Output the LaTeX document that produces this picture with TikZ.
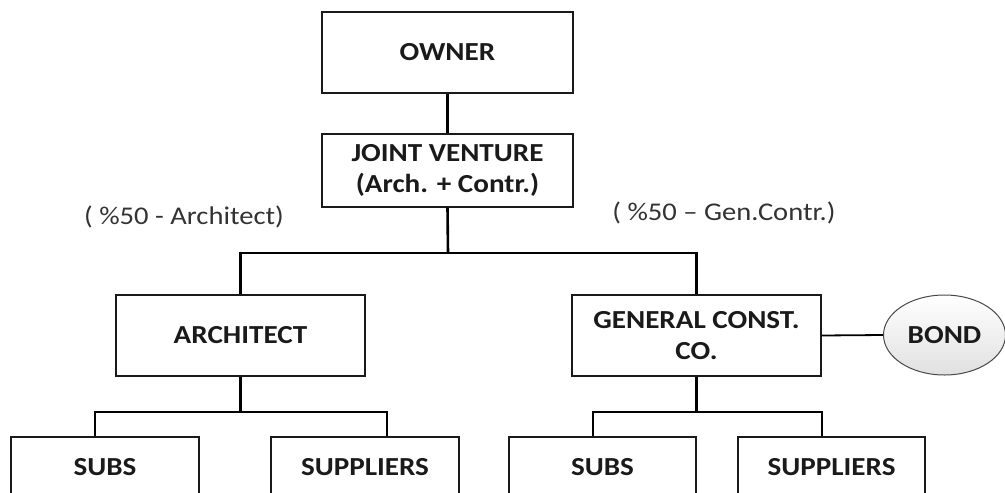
\documentclass[tikz,border=0pt]{standalone}
\usepackage{fontspec}
\setmainfont[FakeStretch=1.12]{Carlito}
\usetikzlibrary{shapes.geometric}
\definecolor{ink}{HTML}{1A1A1A}
\definecolor{note}{HTML}{333333}
\tikzset{
  box/.style={draw=ink, line width=1.3pt, fill=white, align=center,
    inner sep=0pt, font=\fontsize{26}{30}\selectfont\bfseries, text=ink},
  conn/.style={draw=black, line width=2.6pt},
  thin/.style={draw=black, line width=1.8pt},
  note/.style={font=\fontsize{25.5}{28}\selectfont, text=note, inner sep=0pt}
}
\begin{document}
\begin{tikzpicture}[x=1pt, y=-1pt]
\useasboundingbox (0,0) rectangle (1005,493);
\clip (0,0) rectangle (1005,493);

% upper chain
\node[box, minimum width=251pt, minimum height=81pt] (owner) at (447.5,52.5) {OWNER};
\node[box, minimum width=251pt, minimum height=73pt] (jv) at (447.5,170.5)
  {JOINT VENTURE\\[1pt](Arch. + Contr.)};

% partners
\node[box, minimum width=249pt, minimum height=81pt] (arch) at (240.5,335.5) {ARCHITECT};
\node[box, minimum width=249pt, minimum height=81pt] (gc) at (696.5,335.5)
  {GENERAL CONST.\\[1pt]CO.};

% bond
\node[ellipse, draw=ink!80, line width=1pt, top color=white, bottom color=black!12,
  minimum width=122pt, minimum height=80pt, inner sep=0pt,
  font=\fontsize{26}{30}\selectfont\bfseries, text=ink] (bond) at (944.5,335) {BOND};

% lower tier
\node[box, minimum width=188pt, minimum height=60pt] (subsA) at (105,467) {SUBS};
\node[box, minimum width=188pt, minimum height=60pt] (supA) at (365,467) {SUPPLIERS};
\node[box, minimum width=187pt, minimum height=60pt] (subsB) at (602.5,467) {SUBS};
\node[box, minimum width=187pt, minimum height=60pt] (supB) at (831.5,467) {SUPPLIERS};

% share notes
\node[note] (shareA) at (184,217) {( \%50 - Architect)};
\node[note] (shareB) at (724,213) {( \%50 – Gen.Contr.)};

% connectors
\coordinate (jvb) at (448,253);
\coordinate (archb) at (240.5,412);
\coordinate (gcb) at (696.5,412);

\draw[conn] (owner.south) -- (jv.north);
\draw[conn] (jv.south) -- (jvb);
\draw[conn] (arch.north) |- (jvb) -| (gc.north);

\draw[conn] (arch.south) -- (archb);
\draw[conn] ([xshift=-10pt]subsA.north) |- (archb) -| ([xshift=22pt]supA.north);

\draw[conn] (gc.south) -- (gcb);
\draw[conn] ([xshift=-9.5pt]subsB.north) |- (gcb) -| ([xshift=-9.5pt]supB.north);

\draw[thin] (gc.east) -- (bond.west);
\end{tikzpicture}
\end{document}
